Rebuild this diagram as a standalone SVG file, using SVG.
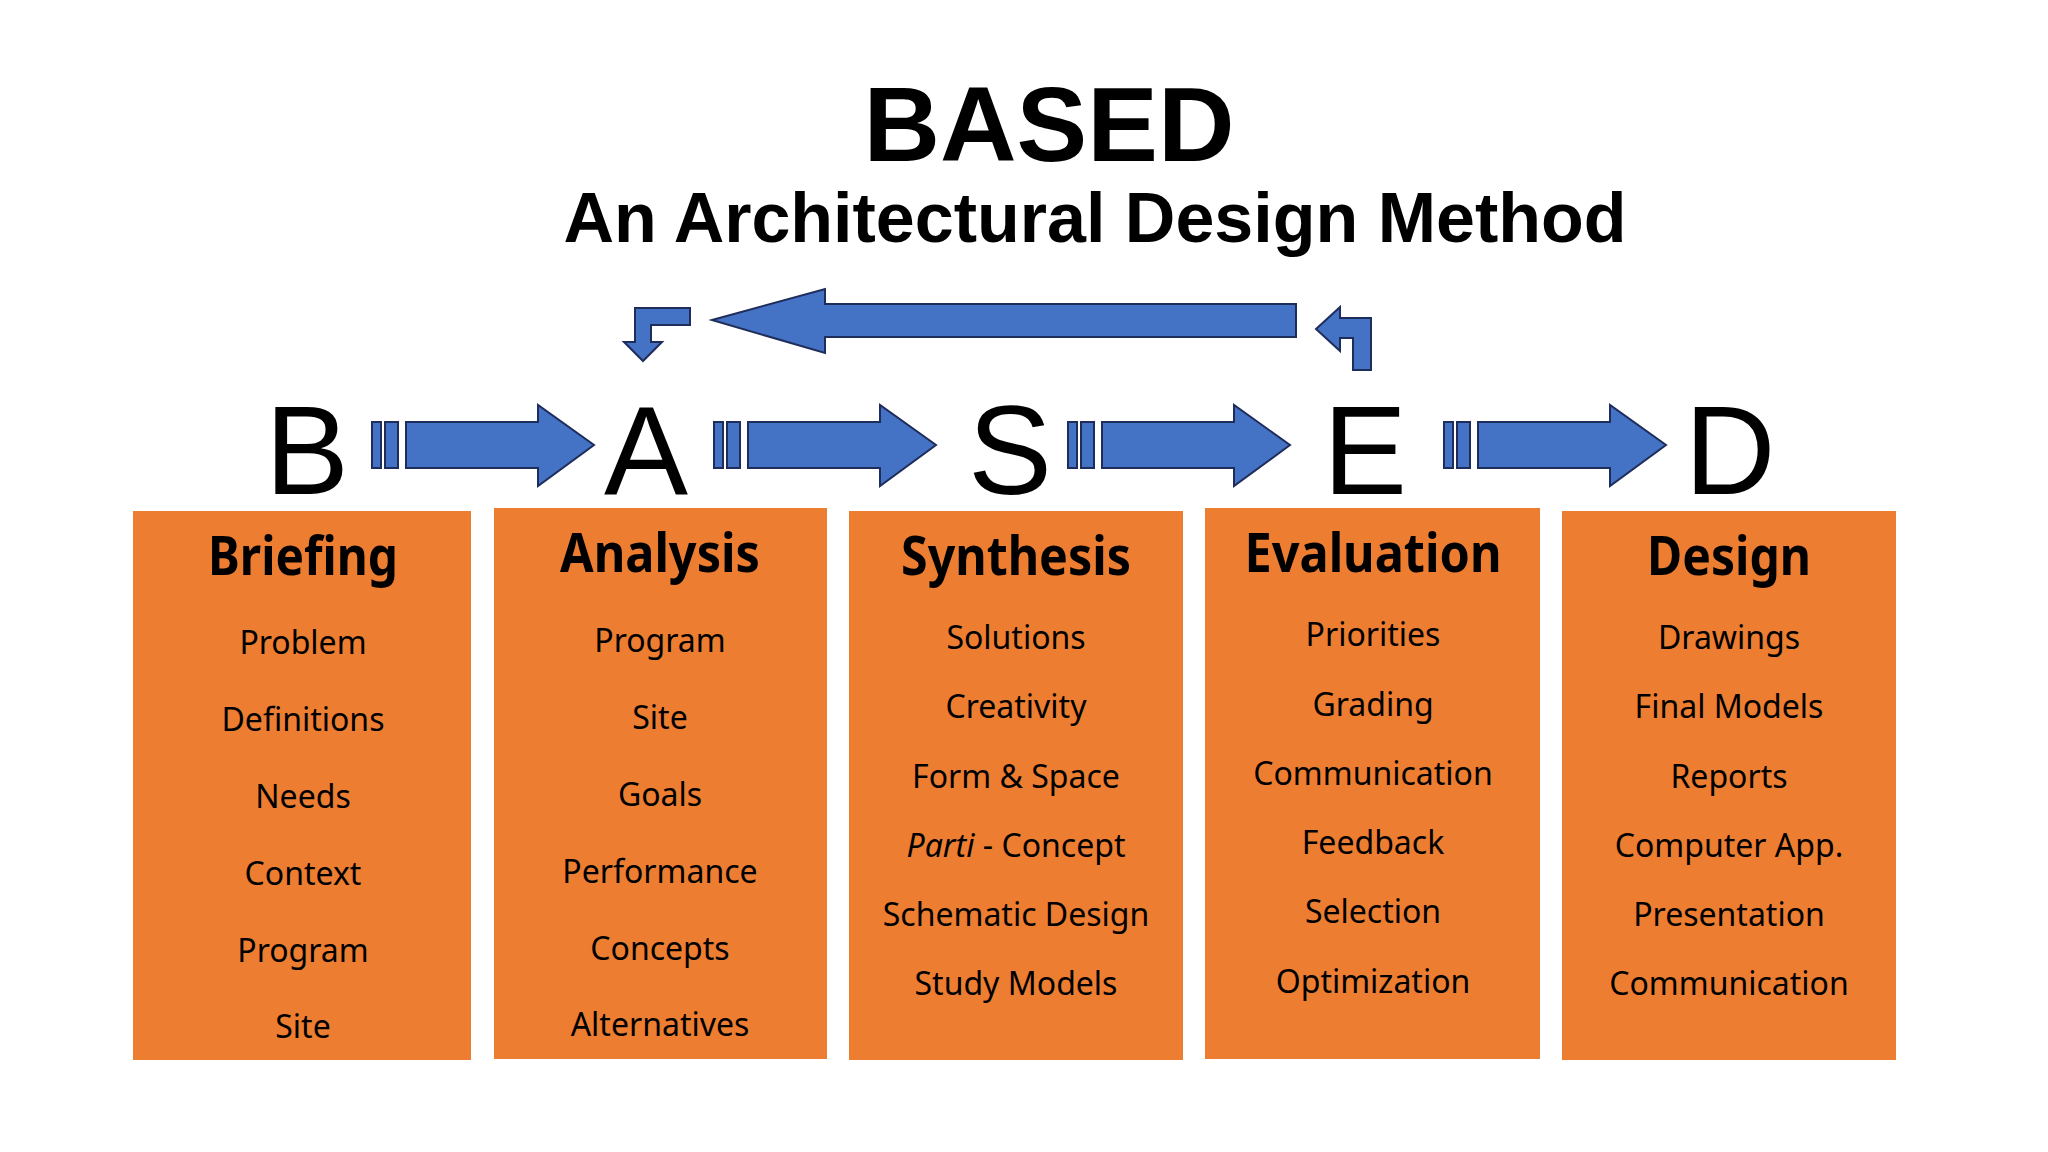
<svg xmlns="http://www.w3.org/2000/svg" width="2048" height="1152" viewBox="0 0 2048 1152">
<style>
.t{font-family:"Liberation Sans",Arial,sans-serif;font-weight:bold;fill:#000;text-anchor:middle}
.L{font-family:"Liberation Sans",Arial,sans-serif;font-size:126px;fill:#000;text-anchor:middle}
.box{fill:#ED7D31}
.h{font-family:"Noto Sans",sans-serif;font-weight:bold;font-size:54px;fill:#000;text-anchor:middle}
.i{font-family:"Noto Sans",sans-serif;font-size:32px;fill:#000;text-anchor:middle}
.ar{fill:#4472C4;stroke:#1F2D5A;stroke-width:2}
</style>
<defs>
<g id="sa">
<rect class="ar" x="0" y="422" width="9" height="46"/>
<rect class="ar" x="13" y="422" width="13" height="46"/>
<path class="ar" d="M34,422 H166 V405 L222,445 L166,486 V468 H34 Z"/>
</g>
</defs>
<rect width="2048" height="1152" fill="#fff"/>
<g id="title">
<text class="t" x="1049" y="161" font-size="106">BASED</text>
<text class="t" x="1095" y="242" font-size="70">An Architectural Design Method</text>
</g>
<g id="letters">
<text class="L" x="307" y="494">B</text>
<text class="L" x="646" y="494">A</text>
<text class="L" x="1010" y="494">S</text>
<text class="L" x="1365" y="494">E</text>
<text class="L" x="1730" y="494">D</text>
</g>
<g id="connectors">
<use href="#sa" x="372"/>
<use href="#sa" x="714"/>
<use href="#sa" x="1068"/>
<use href="#sa" x="1444"/>
<path class="ar" d="M712,320 L825,289 V304 H1296 V337 H825 V353 Z"/>
<path class="ar" d="M1371,370 V318 H1340 V307 L1316,329 L1340,351 V338 H1353 V370 Z"/>
<path class="ar" d="M690,308 H635 V342 H624 L643,361 L662,342 H651 V325 H690 Z"/>
</g>
<g id="briefing">
<rect class="box" x="133" y="511" width="338" height="549"/>
<text class="h" x="303" y="575" textLength="190" lengthAdjust="spacingAndGlyphs">Briefing</text>
<text class="i" x="303" y="654">Problem</text>
<text class="i" x="303" y="731">Definitions</text>
<text class="i" x="303" y="808">Needs</text>
<text class="i" x="303" y="885">Context</text>
<text class="i" x="303" y="962">Program</text>
<text class="i" x="303" y="1038">Site</text>
</g>
<g id="analysis">
<rect class="box" x="494" y="508" width="333" height="551"/>
<text class="h" x="660" y="572" textLength="200" lengthAdjust="spacingAndGlyphs">Analysis</text>
<text class="i" x="660" y="652">Program</text>
<text class="i" x="660" y="729">Site</text>
<text class="i" x="660" y="806">Goals</text>
<text class="i" x="660" y="883">Performance</text>
<text class="i" x="660" y="960">Concepts</text>
<text class="i" x="660" y="1036">Alternatives</text>
</g>
<g id="synthesis">
<rect class="box" x="849" y="511" width="334" height="549"/>
<text class="h" x="1016" y="575" textLength="230" lengthAdjust="spacingAndGlyphs">Synthesis</text>
<text class="i" x="1016" y="649">Solutions</text>
<text class="i" x="1016" y="718">Creativity</text>
<text class="i" x="1016" y="788">Form &amp; Space</text>
<text class="i" x="1016" y="857"><tspan font-style="italic">Parti</tspan> - Concept</text>
<text class="i" x="1016" y="926">Schematic Design</text>
<text class="i" x="1016" y="995">Study Models</text>
</g>
<g id="evaluation">
<rect class="box" x="1205" y="508" width="335" height="551"/>
<text class="h" x="1373" y="572" textLength="257" lengthAdjust="spacingAndGlyphs">Evaluation</text>
<text class="i" x="1373" y="646">Priorities</text>
<text class="i" x="1373" y="716">Grading</text>
<text class="i" x="1373" y="785">Communication</text>
<text class="i" x="1373" y="854">Feedback</text>
<text class="i" x="1373" y="923">Selection</text>
<text class="i" x="1373" y="993">Optimization</text>
</g>
<g id="design">
<rect class="box" x="1562" y="511" width="334" height="549"/>
<text class="h" x="1729" y="575" textLength="164" lengthAdjust="spacingAndGlyphs">Design</text>
<text class="i" x="1729" y="649">Drawings</text>
<text class="i" x="1729" y="718">Final Models</text>
<text class="i" x="1729" y="788">Reports</text>
<text class="i" x="1729" y="857">Computer App.</text>
<text class="i" x="1729" y="926">Presentation</text>
<text class="i" x="1729" y="995">Communication</text>
</g>
</svg>
